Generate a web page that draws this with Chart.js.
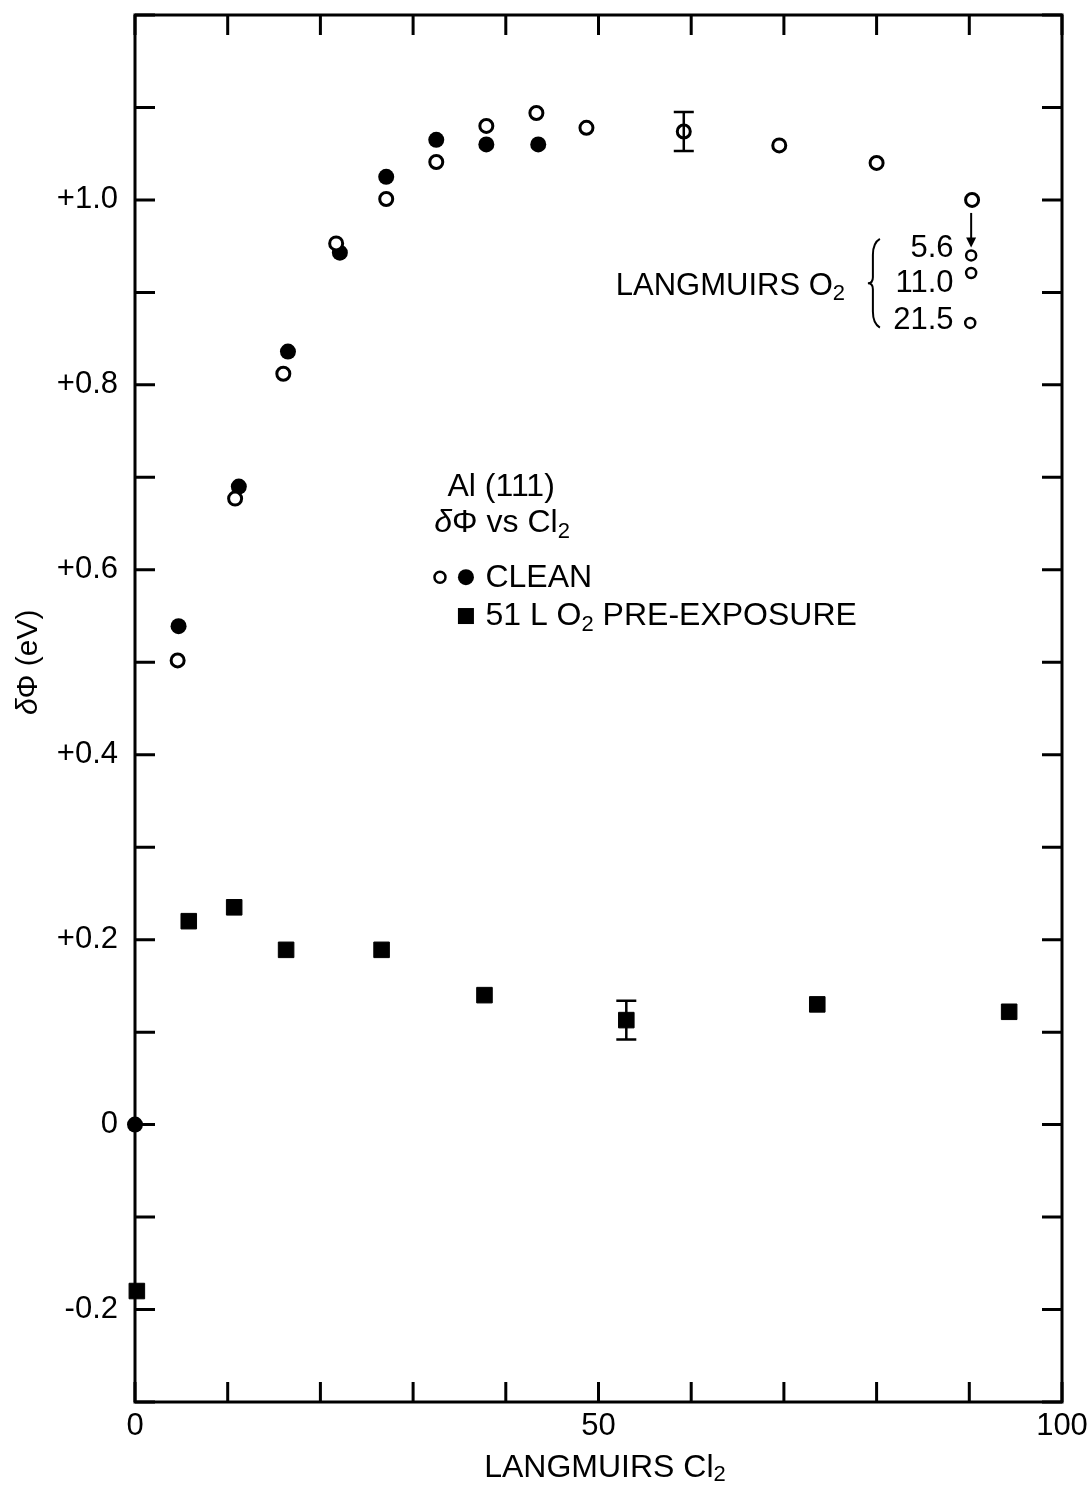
<!DOCTYPE html>
<html>
<head>
<meta charset="utf-8">
<script src="https://cdn.jsdelivr.net/npm/chart.js@4.4.0/dist/chart.umd.min.js"></script>
<style>
html, body { margin: 0; padding: 0; background: #fff; }
#wrap { width: 1092px; height: 1485px; }
</style>
</head>
<body>
<div id="wrap"><canvas id="chart" width="1092" height="1485"></canvas></div>
<script>
// === Données ===
const cleanOpenX   = [4.6, 10.8, 16.0, 21.7, 27.1, 32.5, 37.9, 43.3, 48.7, 59.2, 69.5, 80.0, 90.3];
const cleanOpenY   = [0.502, 0.677, 0.812, 0.953, 1.001, 1.041, 1.080, 1.094, 1.078, 1.074, 1.059, 1.040, 1.000];
const cleanOpenErr = [0, 0, 0, 0, 0, 0, 0, 0, 0, 0.021, 0, 0, 0];

const cleanFilledX = [0, 4.7, 11.2, 16.5, 22.1, 27.1, 32.5, 37.9, 43.5];
const cleanFilledY = [0, 0.539, 0.690, 0.836, 0.943, 1.025, 1.065, 1.060, 1.060];

const o2PostX      = [90.2, 90.2, 90.1];
const o2PostY      = [0.940, 0.921, 0.867];
const o2PostLabels = ['5.6', '11.0', '21.5'];

const preX   = [0.2, 5.8, 10.7, 16.3, 26.6, 37.7, 53.0, 73.6, 94.3];
const preY   = [-0.180, 0.220, 0.235, 0.189, 0.189, 0.140, 0.113, 0.130, 0.122];
const preErr = [0, 0, 0, 0, 0, 0, 0.021, 0, 0];

const xTickValues = [0, 50, 100];
const xTickTexts  = ['0', '50', '100'];
const yTickValues = [-0.2, 0, 0.2, 0.4, 0.6, 0.8, 1.0];
const yTickTexts  = ['-0.2', '0', '+0.2', '+0.4', '+0.6', '+0.8', '+1.0'];

const FONT = "'Liberation Sans', Arial, Helvetica, sans-serif";

function toPoints(xs, ys) {
  return xs.map((x, i) => ({ x: x, y: ys[i] }));
}

function findLabel(values, texts, v) {
  const i = values.findIndex(t => Math.abs(t - v) < 1e-6);
  return i >= 0 ? texts[i] : '';
}

// texte avec indices (O2, Cl2...)
function richText(ctx, parts, x, y, align) {
  ctx.textBaseline = 'middle';
  ctx.textAlign = 'left';
  const widths = parts.map(p => {
    ctx.font = (p.italic ? 'italic ' : '') + p.size + 'px ' + FONT;
    return ctx.measureText(p.t).width;
  });
  const total = widths.reduce((a, b) => a + b, 0);
  let cx = align === 'center' ? x - total / 2 : (align === 'right' ? x - total : x);
  parts.forEach((p, i) => {
    ctx.font = (p.italic ? 'italic ' : '') + p.size + 'px ' + FONT;
    ctx.fillText(p.t, cx, y + (p.dy || 0));
    cx += widths[i];
  });
}

function drawErrors(chart, dsIndex, errs) {
  const ctx = chart.ctx;
  const ys = chart.scales.y;
  const meta = chart.getDatasetMeta(dsIndex);
  const data = chart.data.datasets[dsIndex].data;
  ctx.save();
  ctx.strokeStyle = '#000';
  ctx.lineWidth = 2.5;
  meta.data.forEach((pt, i) => {
    const e = errs[i];
    if (!e) return;
    const top = ys.getPixelForValue(data[i].y + e);
    const bot = ys.getPixelForValue(data[i].y - e);
    ctx.beginPath();
    ctx.moveTo(pt.x, top); ctx.lineTo(pt.x, bot);
    ctx.moveTo(pt.x - 10, top); ctx.lineTo(pt.x + 10, top);
    ctx.moveTo(pt.x - 10, bot); ctx.lineTo(pt.x + 10, bot);
    ctx.stroke();
  });
  ctx.restore();
}

// === Cadre + graduations vers l'intérieur ===
const framePlugin = {
  id: 'frame',
  beforeDatasetsDraw(chart) {
    const ctx = chart.ctx;
    const a = chart.chartArea;
    const xs = chart.scales.x, ys = chart.scales.y;
    ctx.save();
    ctx.strokeStyle = '#000';
    ctx.lineWidth = 3;
    ctx.strokeRect(a.left, a.top, a.right - a.left, a.bottom - a.top);
    ctx.beginPath();
    xs.ticks.forEach(t => {
      const p = xs.getPixelForValue(t.value);
      ctx.moveTo(p, a.bottom); ctx.lineTo(p, a.bottom - 20);
      ctx.moveTo(p, a.top); ctx.lineTo(p, a.top + 20);
    });
    ys.ticks.forEach(t => {
      const p = ys.getPixelForValue(t.value);
      ctx.moveTo(a.left, p); ctx.lineTo(a.left + 20, p);
      ctx.moveTo(a.right, p); ctx.lineTo(a.right - 20, p);
    });
    ctx.stroke();
    ctx.restore();
  },
  afterDatasetsDraw(chart) {
    const ctx = chart.ctx;
    const a = chart.chartArea;
    const xs = chart.scales.x, ys = chart.scales.y;
    const px = v => xs.getPixelForValue(v);
    const py = v => ys.getPixelForValue(v);

    drawErrors(chart, 0, cleanOpenErr);
    drawErrors(chart, 3, preErr);

    ctx.save();
    ctx.fillStyle = '#000';
    ctx.strokeStyle = '#000';

    // titres des axes
    richText(ctx, [{ t: 'LANGMUIRS Cl', size: 32 }, { t: '2', size: 22, dy: 7 }],
      px(50.7), a.bottom + 66, 'center');
    ctx.save();
    ctx.translate(a.left - 106, py(0.5));
    ctx.rotate(-Math.PI / 2);
    richText(ctx, [{ t: 'δ', size: 30, italic: true }, { t: 'Φ (eV)', size: 30 }], 0, 0, 'center');
    ctx.restore();

    // bloc de légende
    richText(ctx, [{ t: 'Al (111)', size: 32 }], px(39.5), py(0.689), 'center');
    richText(ctx, [{ t: 'δ', size: 32, italic: true }, { t: 'Φ vs Cl', size: 32 }, { t: '2', size: 22, dy: 8 }],
      px(39.6), py(0.650), 'center');

    ctx.lineWidth = 2.5;
    ctx.beginPath();
    ctx.arc(px(32.9), py(0.592), 5.5, 0, Math.PI * 2);
    ctx.stroke();
    ctx.beginPath();
    ctx.arc(px(35.7), py(0.592), 8, 0, Math.PI * 2);
    ctx.fill();
    richText(ctx, [{ t: 'CLEAN', size: 32 }], px(37.8), py(0.591), 'left');
    ctx.fillRect(px(35.7) - 8, py(0.550) - 8, 16, 16);
    richText(ctx, [{ t: '51 L O', size: 32 }, { t: '2', size: 22, dy: 9 }, { t: ' PRE-EXPOSURE', size: 32 }],
      px(37.8), py(0.550), 'left');

    // annotation O2
    richText(ctx, [{ t: 'LANGMUIRS O', size: 31 }, { t: '2', size: 22, dy: 7 }], px(76.6), py(0.906), 'right');
    const labY = [0.948, 0.910, 0.870];
    o2PostLabels.forEach((s, i) => {
      richText(ctx, [{ t: s, size: 31 }], px(88.3), py(labY[i]), 'right');
    });

    // accolade
    const bx = px(79.6), bt = py(0.958), bb = py(0.862), bm = (bt + bb) / 2;
    ctx.lineWidth = 2;
    ctx.beginPath();
    ctx.moveTo(bx + 7, bt);
    ctx.quadraticCurveTo(bx, bt + 4, bx, bt + 16);
    ctx.lineTo(bx, bm - 6);
    ctx.quadraticCurveTo(bx, bm, bx - 5, bm);
    ctx.quadraticCurveTo(bx, bm, bx, bm + 6);
    ctx.lineTo(bx, bb - 16);
    ctx.quadraticCurveTo(bx, bb - 4, bx + 7, bb);
    ctx.stroke();

    // flèche
    const ax = px(90.2);
    const y0 = py(1.0) + 13, y1 = py(o2PostY[0]) - 8;
    ctx.lineWidth = 2;
    ctx.beginPath();
    ctx.moveTo(ax, y0); ctx.lineTo(ax, y1 - 8);
    ctx.stroke();
    ctx.beginPath();
    ctx.moveTo(ax - 5, y1 - 10); ctx.lineTo(ax + 5, y1 - 10); ctx.lineTo(ax, y1);
    ctx.closePath();
    ctx.fill();

    ctx.restore();
  }
};

const ctx = document.getElementById('chart').getContext('2d');
new Chart(ctx, {
  type: 'scatter',
  data: {
    datasets: [
      {
        label: 'clean open',
        data: toPoints(cleanOpenX, cleanOpenY),
        pointStyle: 'circle',
        pointRadius: 6.5,
        pointBorderWidth: 3,
        pointBackgroundColor: '#fff',
        pointBorderColor: '#000',
        clip: false
      },
      {
        label: 'clean filled',
        data: toPoints(cleanFilledX, cleanFilledY),
        pointStyle: 'circle',
        pointRadius: 8,
        pointBorderWidth: 0,
        pointBackgroundColor: '#000',
        pointBorderColor: '#000',
        clip: false
      },
      {
        label: 'O2 post',
        data: toPoints(o2PostX, o2PostY),
        pointStyle: 'circle',
        pointRadius: 5,
        pointBorderWidth: 2.5,
        pointBackgroundColor: '#fff',
        pointBorderColor: '#000',
        clip: false
      },
      {
        label: '51 L O2',
        data: toPoints(preX, preY),
        pointStyle: 'rect',
        pointRadius: 11,
        pointBorderWidth: 1,
        pointBackgroundColor: '#000',
        pointBorderColor: '#000',
        clip: false
      }
    ]
  },
  options: {
    responsive: false,
    animation: false,
    devicePixelRatio: 1,
    layout: { padding: { top: 15, right: 30, left: 0, bottom: 0 } },
    plugins: { legend: { display: false }, tooltip: { enabled: false } },
    scales: {
      x: {
        type: 'linear',
        min: 0, max: 100,
        grid: { display: false, drawTicks: false },
        border: { display: false },
        ticks: {
          stepSize: 10, autoSkip: false, maxRotation: 0, padding: 6,
          color: '#000', font: { family: FONT, size: 31 },
          callback: v => findLabel(xTickValues, xTickTexts, v)
        },
        afterFit: s => { s.height = 83; s.paddingLeft = 0; s.paddingRight = 0; }
      },
      y: {
        type: 'linear',
        min: -0.3, max: 1.2,
        grid: { display: false, drawTicks: false },
        border: { display: false },
        ticks: {
          stepSize: 0.1, autoSkip: false, padding: 17,
          color: '#000', font: { family: FONT, size: 31 },
          callback: v => findLabel(yTickValues, yTickTexts, v)
        },
        afterFit: s => { s.width = 135; s.paddingTop = 0; s.paddingBottom = 0; }
      }
    }
  },
  plugins: [framePlugin]
});
</script>
</body>
</html>
